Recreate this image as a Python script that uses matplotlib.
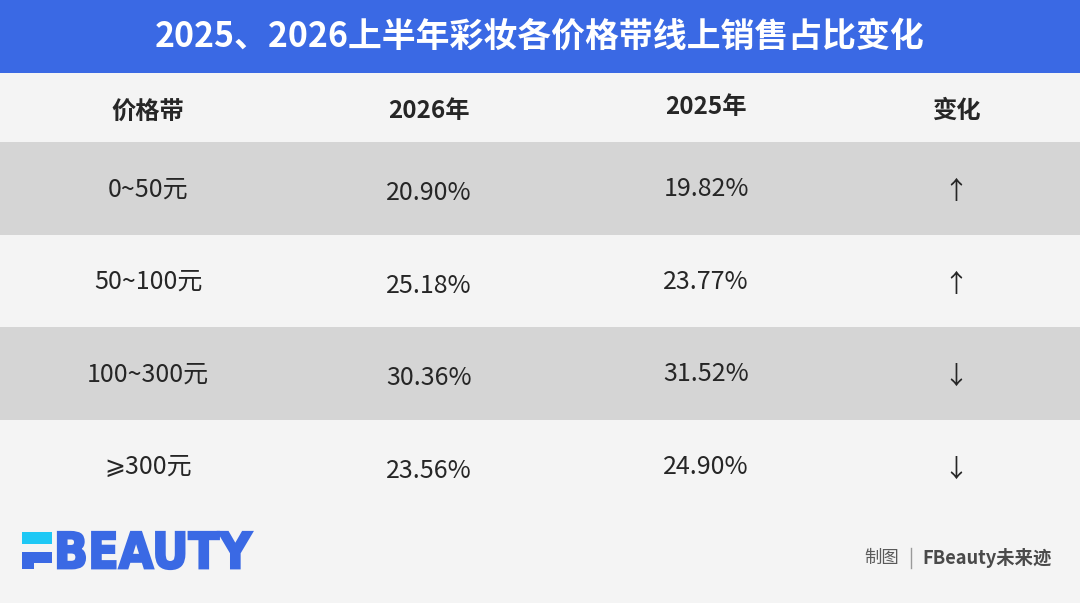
import matplotlib
matplotlib.use("Agg")
import matplotlib.pyplot as plt
from matplotlib.patches import Rectangle, PathPatch
from matplotlib.textpath import TextPath
from matplotlib.font_manager import FontProperties
from matplotlib.transforms import Affine2D

plt.rcParams['font.family'] = ['Noto Sans CJK SC', 'DejaVu Sans']

# table content
title = '2025、2026上半年彩妆各价格带线上销售占比变化'
headers = ['价格带', '2026年', '2025年', '变化']
bands = ['0~50元', '50~100元', '100~300元', '⩾300元']
share_2026 = [20.90, 25.18, 30.36, 23.56]
share_2025 = [19.82, 23.77, 31.52, 24.90]
change = ['↑' if a > b else '↓' for a, b in zip(share_2026, share_2025)]
footer_label = '制图'
footer_brand = 'FBeauty未来迹'

BLUE = '#3A69E4'
BG = '#F4F4F4'
ROW_DARK = '#D5D5D5'
TXT = '#262626'

W, H = 1080, 603
fig = plt.figure(figsize=(W / 100, H / 100), dpi=100)
fig.patch.set_facecolor(BG)
ax = fig.add_axes([0, 0, 1, 1])
ax.set_xlim(0, W)
ax.set_ylim(H, 0)
ax.axis('off')

# title bar
ax.add_patch(Rectangle((0, 0), W, 73, color=BLUE, lw=0))
ax.text(W / 2, 36, title, color='white', fontsize=24.4, fontweight='bold',
        ha='center', va='center')

col_x = [148, 429, 706, 956]
head_dy = [2, 0, -4, 0]
val_dy = [-1, 3, -1, 2]
head_y = 111
row_top = 142
row_h = 92.5

for j, h in enumerate(headers):
    ax.text(col_x[j], head_y + head_dy[j], h, fontsize=17.5, fontweight='bold',
            color=TXT, ha='center', va='center')

for i in range(len(bands)):
    y0 = row_top + i * row_h
    if i % 2 == 0:
        ax.add_patch(Rectangle((0, y0), W, row_h, color=ROW_DARK, lw=0))
    yc = y0 + row_h / 2 + 2
    cells = [bands[i], f'{share_2026[i]:.2f}%', f'{share_2025[i]:.2f}%', change[i]]
    for j, c in enumerate(cells):
        ax.text(col_x[j], yc + val_dy[j], c, fontsize=18, color=TXT,
                ha='center', va='center')

# logo: F mark built from blocks, then BEAUTY squeezed into its box
ax.add_patch(Rectangle((22, 532), 30, 12, color='#1EC8F5', lw=0))
ax.add_patch(Rectangle((22, 552), 30, 11, color=BLUE, lw=0))
ax.add_patch(Rectangle((22, 552), 12, 17, color=BLUE, lw=0))
tp = TextPath((0, 0), 'BEAUTY', size=10,
              prop=FontProperties(family='DejaVu Sans', weight='bold'))
ext = tp.get_extents()
sx = (252 - 58) / ext.width
sy = (569 - 532) / ext.height
tr = (Affine2D().translate(-ext.x0, -ext.y0).scale(sx, -sy)
      .translate(58, 569))
ax.add_patch(PathPatch(tr.transform_path(tp), facecolor=BLUE, edgecolor=BLUE, lw=1.6))

# footer credit
ax.text(899, 558, footer_label, fontsize=12.5, color='#5A5A5A', ha='right', va='center')
ax.plot([911, 911], [548, 568], color='#9A9A9A', lw=1)
ax.text(922, 558, footer_brand, fontsize=13.2, color='#4A4A4A', fontweight='bold',
        ha='left', va='center')

fig.savefig('out.png', dpi=100, facecolor=BG)
